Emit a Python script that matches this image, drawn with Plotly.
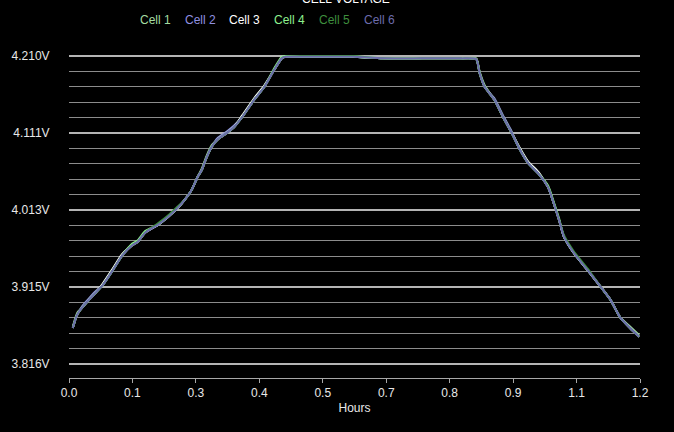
import plotly.graph_objects as go

# ---- data ----
hours = [0.008, 0.015, 0.019, 0.029, 0.042, 0.056, 0.071, 0.092, 0.112, 0.133,
         0.144, 0.160, 0.187, 0.208, 0.229, 0.243, 0.258, 0.270, 0.279, 0.289,
         0.300, 0.312, 0.333, 0.347, 0.364, 0.389, 0.410, 0.431, 0.447, 0.455,
         0.487, 0.535, 0.597, 0.659, 0.742, 0.825, 0.856, 0.863, 0.874, 0.894,
         0.913, 0.930, 0.946, 0.965, 0.986, 1.007, 1.019, 1.030, 1.040, 1.061,
         1.090, 1.117, 1.138, 1.158, 1.179, 1.198]

cell1 = [3.864, 3.878, 3.883, 3.889, 3.898, 3.907, 3.917, 3.936, 3.955, 3.968,
         3.972, 3.984, 3.994, 4.004, 4.016, 4.026, 4.039, 4.055, 4.066, 4.082,
         4.096, 4.103, 4.112, 4.119, 4.132, 4.154, 4.170, 4.192, 4.207, 4.209,
         4.209, 4.209, 4.209, 4.207, 4.207, 4.207, 4.207, 4.190, 4.172, 4.154,
         4.131, 4.112, 4.092, 4.073, 4.060, 4.042, 4.021, 4.000, 3.979, 3.958,
         3.936, 3.915, 3.898, 3.876, 3.864, 3.853]
cell2 = [3.862, 3.876, 3.881, 3.891, 3.900, 3.909, 3.917, 3.936, 3.955, 3.968,
         3.972, 3.984, 3.994, 4.004, 4.016, 4.026, 4.039, 4.055, 4.064, 4.080,
         4.094, 4.105, 4.114, 4.121, 4.132, 4.154, 4.170, 4.192, 4.207, 4.209,
         4.209, 4.209, 4.209, 4.207, 4.207, 4.207, 4.206, 4.188, 4.170, 4.156,
         4.133, 4.114, 4.092, 4.073, 4.060, 4.042, 4.021, 4.000, 3.979, 3.958,
         3.936, 3.915, 3.898, 3.876, 3.862, 3.851]
cell3 = [3.862, 3.876, 3.881, 3.889, 3.898, 3.907, 3.919, 3.938, 3.957, 3.968,
         3.972, 3.984, 3.994, 4.004, 4.016, 4.026, 4.039, 4.055, 4.064, 4.080,
         4.094, 4.103, 4.112, 4.119, 4.134, 4.156, 4.172, 4.192, 4.207, 4.209,
         4.209, 4.209, 4.209, 4.207, 4.207, 4.207, 4.206, 4.188, 4.170, 4.154,
         4.131, 4.112, 4.094, 4.075, 4.062, 4.042, 4.021, 4.000, 3.979, 3.958,
         3.936, 3.915, 3.898, 3.876, 3.862, 3.851]
cell4 = [3.862, 3.876, 3.881, 3.889, 3.898, 3.907, 3.917, 3.936, 3.955, 3.970,
         3.974, 3.986, 3.994, 4.004, 4.016, 4.026, 4.039, 4.055, 4.064, 4.080,
         4.094, 4.103, 4.112, 4.119, 4.132, 4.154, 4.170, 4.194, 4.209, 4.210,
         4.209, 4.209, 4.209, 4.207, 4.207, 4.207, 4.206, 4.188, 4.170, 4.154,
         4.131, 4.112, 4.092, 4.073, 4.060, 4.044, 4.023, 4.002, 3.979, 3.958,
         3.936, 3.915, 3.898, 3.876, 3.862, 3.851]
cell5 = [3.862, 3.876, 3.881, 3.889, 3.898, 3.907, 3.917, 3.936, 3.955, 3.968,
         3.972, 3.984, 3.996, 4.006, 4.018, 4.026, 4.039, 4.055, 4.064, 4.080,
         4.094, 4.103, 4.112, 4.119, 4.132, 4.154, 4.170, 4.192, 4.207, 4.209,
         4.210, 4.210, 4.210, 4.207, 4.207, 4.207, 4.206, 4.188, 4.170, 4.154,
         4.131, 4.112, 4.092, 4.073, 4.060, 4.042, 4.021, 4.000, 3.981, 3.960,
         3.938, 3.915, 3.898, 3.876, 3.862, 3.851]
cell6 = [3.862, 3.876, 3.881, 3.889, 3.898, 3.907, 3.917, 3.936, 3.955, 3.968,
         3.972, 3.984, 3.994, 4.004, 4.016, 4.026, 4.039, 4.055, 4.064, 4.080,
         4.094, 4.103, 4.112, 4.119, 4.132, 4.154, 4.170, 4.192, 4.207, 4.209,
         4.209, 4.209, 4.209, 4.207, 4.207, 4.207, 4.206, 4.188, 4.170, 4.154,
         4.131, 4.112, 4.092, 4.073, 4.060, 4.042, 4.021, 4.000, 3.979, 3.958,
         3.936, 3.915, 3.898, 3.876, 3.862, 3.851]

cell_names = ["Cell 1", "Cell 2", "Cell 3", "Cell 4", "Cell 5", "Cell 6"]
cell_colors = ["#a4dca0", "#9090e0", "#ffffff", "#8ef08e", "#3e8e3e", "#6c6cac"]
cells = [cell1, cell2, cell3, cell4, cell5, cell6]

y_tickvals = [3.816, 3.9145, 4.013, 4.1115, 4.210]
y_ticktext = ["3.816V", "3.915V", "4.013V", "4.111V", "4.210V"]
x_tickvals = [0.0, 0.1333, 0.2667, 0.4, 0.5333, 0.6667, 0.8, 0.9333, 1.0667, 1.2]
x_ticktext = ["0.0", "0.1", "0.3", "0.4", "0.5", "0.7", "0.8", "0.9", "1.1", "1.2"]

title_text = "CELL VOLTAGE"
x_title = "Hours"

FONT = "Liberation Sans, Arial, sans-serif"

fig = go.Figure()
for name, color, vals in zip(cell_names, cell_colors, cells):
    fig.add_trace(go.Scatter(x=hours, y=vals, mode="lines", name=name,
                             line=dict(color=color, width=2, shape="spline", smoothing=0.5),
                             showlegend=False))

# legend as coloured text (reference shows no symbols)
legend_x_px = [150.5, 195.5, 240.5, 286, 331, 376.5]
for name, color, px in zip(cell_names, cell_colors, legend_x_px):
    fig.add_annotation(text=name, xref="paper", yref="paper",
                       x=(px - 63) / 577, y=1 + 20.5 / 338,
                       xanchor="center", yanchor="middle", showarrow=False,
                       font=dict(family=FONT, size=12, color=color))

# cropped title at the top
fig.add_annotation(text=title_text, xref="paper", yref="paper",
                   x=(343 - 63) / 577, y=1 + 41.5 / 338,
                   xanchor="center", yanchor="middle", showarrow=False,
                   font=dict(family=FONT, size=12, color="#ffffff"))

fig.update_layout(
    width=674, height=432,
    paper_bgcolor="#000000", plot_bgcolor="#000000",
    margin=dict(l=63, r=34, t=40, b=54),
    font=dict(family=FONT, size=12, color="#e8e8e8"),
    xaxis=dict(range=[0, 1.2], tickmode="array", tickvals=x_tickvals,
               ticktext=x_ticktext, showgrid=False, zeroline=False,
               showline=True, linecolor="#a8a8a8", linewidth=1,
               ticks="outside", ticklen=4, tickcolor="#a8a8a8",
               title=dict(text=x_title, font=dict(size=12, color="#e8e8e8"), standoff=4),
               tickfont=dict(size=12, color="#e8e8e8")),
    yaxis=dict(range=[3.7981, 4.2305], tickmode="array", tickvals=y_tickvals,
               ticktext=y_ticktext, showgrid=True, gridcolor="#b4b4b4", gridwidth=2,
               zeroline=False, showline=False, ticks="outside", ticklen=16,
               tickcolor="rgba(0,0,0,0)",
               tickfont=dict(size=12, color="#e8e8e8"),
               minor=dict(tickmode="linear", tick0=3.816, dtick=0.0197,
                          showgrid=True, gridcolor="#8c8c8c", gridwidth=1)),
)

fig.write_html("out.html", config={"displayModeBar": False},
               post_script="document.body.style.margin='0';document.body.style.overflow='hidden';")
